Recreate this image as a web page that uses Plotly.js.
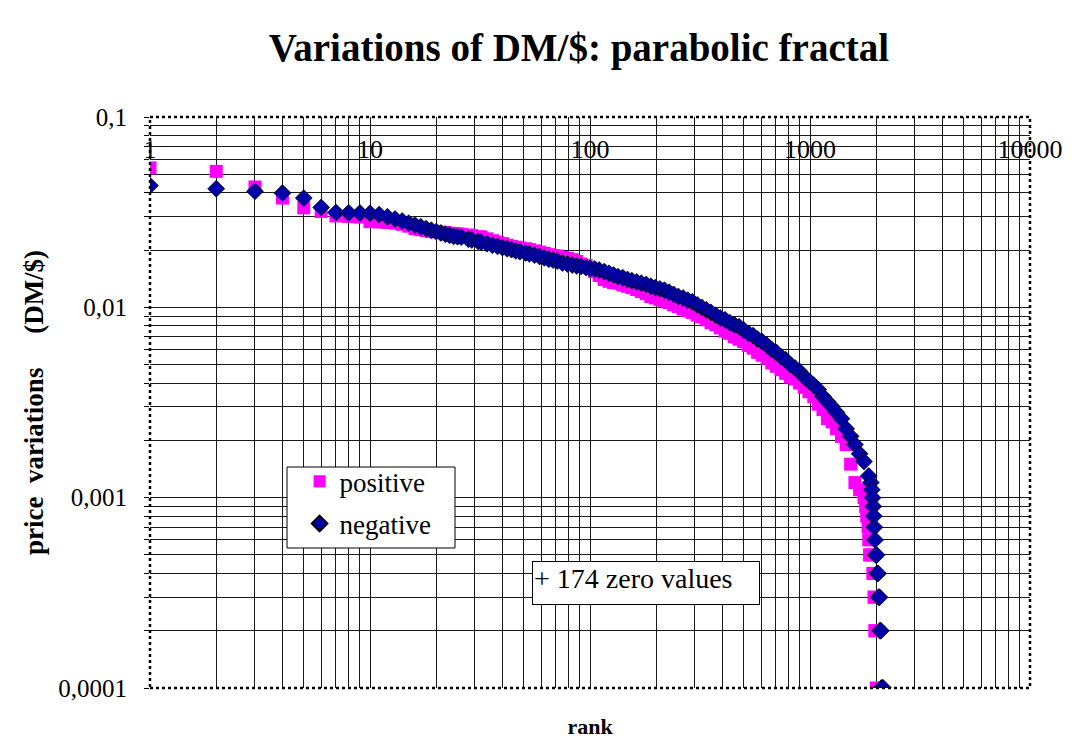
<!DOCTYPE html>
<html>
<head>
<meta charset="utf-8">
<script src="https://cdn.plot.ly/plotly-3.0.1.min.js"></script>
<style>
html,body{margin:0;padding:0;background:#fff;}
#chart{width:1072px;height:744px;}
</style>
</head>
<body>
<div id="chart"></div>
<script>
// ---- data ----
const posRank = [1,2,3,4,5,6,7,8,9,10,11,12,13,14,15,16,17,18,19,20,21,22,23,24,25,26,28,29,31,32,34,36,38,40,42,44,46,48,51,53,56,59,62,65,68,71,75,79,83,87,91,96,100,105,110,116,122,128,134,141,148,155,163,171,180,189,198,208,218,229,240,252,265,278,292,307,322,338,355,373,391,411,432,453,476,500,525,551,578,607,638,670,703,738,775,814,855,897,942,989,1040,1090,1145,1200,1260,1320,1390,1460,1530,1600,1680,1760,1790,1810,1836,1850,1865,1880,1930,1945,1955,1962,1970,1985,2000];
const posValue = [0.0540,0.0518,0.0429,0.0375,0.0333,0.0319,0.0302,0.0300,0.0298,0.0282,0.0281,0.0279,0.0277,0.0273,0.0267,0.0259,0.0256,0.0253,0.0250,0.0249,0.0248,0.0247,0.0245,0.0244,0.0243,0.0242,0.0240,0.0238,0.0235,0.0234,0.0229,0.0224,0.0220,0.0216,0.0212,0.0209,0.0207,0.0205,0.0203,0.0201,0.0198,0.0195,0.0192,0.0189,0.0187,0.0186,0.0183,0.0181,0.0178,0.0174,0.0169,0.0166,0.0161,0.0154,0.0147,0.0140,0.0137,0.0135,0.0134,0.0131,0.0129,0.0127,0.0124,0.0121,0.0118,0.0114,0.0112,0.0110,0.0108,0.0106,0.0103,0.0101,0.0098,0.0096,0.0094,0.0091,0.0089,0.0086,0.0083,0.0081,0.0078,0.0075,0.0073,0.0070,0.0068,0.0066,0.0063,0.0061,0.0058,0.0056,0.0054,0.0051,0.0049,0.0047,0.0045,0.0043,0.0042,0.0040,0.0038,0.0036,0.0034,0.0031,0.0029,0.0026,0.0025,0.0023,0.0021,0.0019,0.0015,0.0012,0.0011,0.0010,0.0009,0.0008,0.0007,0.0006,0.0005,0.0005,0.0004,0.0004,0.0003,0.0003,0.0002,0.0002,0.0001];

const negRank = [1,2,3,4,5,6,7,8,9,10,11,12,13,14,15,16,17,18,19,20,21,22,23,24,25,26,28,29,31,32,34,36,38,40,42,44,46,48,51,53,56,59,62,65,68,71,75,79,83,87,91,96,100,105,110,116,122,128,134,141,148,155,163,171,180,189,198,208,218,229,240,252,265,278,292,307,322,338,355,373,391,411,432,453,476,500,525,551,578,607,638,670,703,738,775,814,855,897,942,989,1040,1090,1145,1200,1260,1320,1390,1460,1530,1600,1680,1760,1850,1890,1910,1925,1940,1950,1960,1975,1990,2010,2020,2040,2050,2070,2080,2100,2110,2130,2150];
const negValue = [0.0436,0.0420,0.0407,0.0399,0.0375,0.0335,0.0315,0.0314,0.0313,0.0312,0.0307,0.0299,0.0291,0.0284,0.0277,0.0271,0.0265,0.0259,0.0254,0.0250,0.0246,0.0242,0.0239,0.0236,0.0235,0.0234,0.0228,0.0226,0.0222,0.0220,0.0216,0.0212,0.0209,0.0206,0.0203,0.0201,0.0198,0.0196,0.0193,0.0191,0.0188,0.0185,0.0182,0.0179,0.0177,0.0175,0.0171,0.0169,0.0167,0.0165,0.0164,0.0162,0.0160,0.0159,0.0157,0.0154,0.0151,0.0148,0.0145,0.0143,0.0140,0.0138,0.0136,0.0134,0.0132,0.0129,0.0127,0.0125,0.0123,0.0120,0.0117,0.0114,0.0112,0.0109,0.0107,0.0103,0.0100,0.0097,0.0094,0.0091,0.0088,0.0086,0.0083,0.0081,0.0079,0.0076,0.0073,0.0071,0.0068,0.0066,0.0063,0.0060,0.0058,0.0055,0.0053,0.0050,0.0048,0.0046,0.0043,0.0041,0.0039,0.0037,0.0034,0.0032,0.0030,0.0028,0.0026,0.0023,0.0021,0.0019,0.0017,0.00155,0.0013,0.0012,0.0011,0.0010,0.0009,0.0008,0.0007,0.0006,0.0005,0.0005,0.0004,0.0004,0.0003,0.0003,0.0002,0.0002,0.0001,0.0001,0.0001];

const seriesNames = ["positive", "negative"];
const xTickVals = [1, 10, 100, 1000, 10000];
const xTickText = ["1", "10", "100", "1000", "10000"];
const yTickVals = [0.0001, 0.001, 0.01, 0.1];
const yTickText = ["0,0001", "0,001", "0,01", "0,1"];
const zeroNote = "+ 174 zero values";

// ---- grid positions at every 1..9 step of each decade ----
function decadeSteps(vals) {
  const out = [];
  for (let i = 0; i < vals.length; i++) {
    const d = vals[i];
    if (i === vals.length - 1) { out.push(d); break; }
    for (let k = 1; k <= 9; k++) out.push(d * k);
  }
  return out;
}
const xGrid = decadeSteps(xTickVals);
const yGrid = decadeSteps(yTickVals);
const yText = yGrid.map(v => { const i = yTickVals.findIndex(t => Math.abs(t - v) < v * 1e-6); return i >= 0 ? yTickText[i] : ""; });

const FONT = "Liberation Serif, Times New Roman, serif";
const GRID = "#1a1a1a";

const traces = [
  {
    x: posRank, y: posValue, name: seriesNames[0], legendgroup: "p", type: "scatter", mode: "markers",
    marker: {symbol: "square", size: 13, color: "#FF00FF", line: {width: 0}},
    xaxis: "x", yaxis: "y"
  },
  {
    x: negRank, y: negValue, name: seriesNames[1], legendgroup: "n", type: "scatter", mode: "markers",
    marker: {symbol: "diamond", size: 13, color: "#0000a8", line: {width: 0.7, color: "#000000"}},
    xaxis: "x", yaxis: "y"
  },
  { // carrier for the top tick-label axis (no data)
    x: [], y: [], type: "scatter", mode: "markers", showlegend: false, hoverinfo: "skip",
    xaxis: "x2", yaxis: "y"
  }
];

const layout = {
  width: 1072, height: 744,
  margin: {l: 150, r: 42, t: 117, b: 56, pad: 0},
  paper_bgcolor: "#ffffff", plot_bgcolor: "#ffffff",
  font: {family: FONT, size: 22, color: "#000"},
  title: {text: "<b>Variations of DM/$: parabolic fractal</b>", x: 0.54, xanchor: "center", y: 0.937, yanchor: "middle",
          font: {family: FONT, size: 39, color: "#000"}},
  showlegend: true,
  legend: {x: 0.170, y: 0.404, xanchor: "left", yanchor: "top", bgcolor: "rgba(0,0,0,0)",
           borderwidth: 0, font: {family: FONT, size: 27, color: "#000"},
           tracegroupgap: 4, itemsizing: "constant"},
  xaxis: {
    type: "log", range: [0, 4], showgrid: true, gridcolor: GRID, gridwidth: 1,
    tickvals: xGrid, ticktext: xGrid.map(() => ""), ticks: "", showticklabels: false,
    zeroline: false, showline: false, fixedrange: true,
    title: {text: "<b>rank</b>", standoff: 30, font: {family: FONT, size: 22}}
  },
  xaxis2: {
    type: "log", range: [0, 4], overlaying: "x", side: "top", anchor: "y",
    tickvals: xTickVals, ticktext: xTickText, ticks: "", showgrid: false, zeroline: false, showline: false,
    ticklabelposition: "inside", ticklabelstandoff: 20, ticklabeloverflow: "allow",
    tickfont: {family: FONT, size: 26, color: "#000"}
  },
  yaxis: {
    type: "log", range: [-4, -1], showgrid: true, gridcolor: GRID, gridwidth: 1,
    tickvals: yGrid, ticktext: yText, ticks: "outside", ticklen: 5, tickcolor: "#000",
    zeroline: false, showline: false, fixedrange: true, ticklabelstandoff: 12,
    tickfont: {family: FONT, size: 25, color: "#000"},
    title: {text: "<b>price\u00A0\u00A0variations\u00A0\u00A0\u00A0\u00A0\u00A0(DM/$)</b>", standoff: 6, font: {family: FONT, size: 27}}
  },
  shapes: [
    {type: "rect", xref: "paper", yref: "paper", x0: 0, x1: 1, y0: 0, y1: 1,
     line: {color: "#000", width: 2.5, dash: "dot"}, fillcolor: "rgba(0,0,0,0)", layer: "above"},
    // legend frame
    {type: "rect", xref: "paper", yref: "paper", x0: 0.1557, x1: 0.3466, y0: 0.2452, y1: 0.3870,
     line: {color: "#000", width: 1}, fillcolor: "#ffffff", layer: "above"}
  ],
  annotations: [
    {text: zeroNote, xref: "paper", yref: "paper", x: 0.434, y: 0.2224, xanchor: "left", yanchor: "top",
     showarrow: false, align: "left", valign: "top", width: 224, height: 40,
     bgcolor: "#ffffff", bordercolor: "#000000", borderwidth: 1, borderpad: 1,
     font: {family: FONT, size: 28, color: "#000"}}
  ]
};

Plotly.newPlot("chart", traces, layout, {staticPlot: true, displayModeBar: false});
</script>
</body>
</html>
